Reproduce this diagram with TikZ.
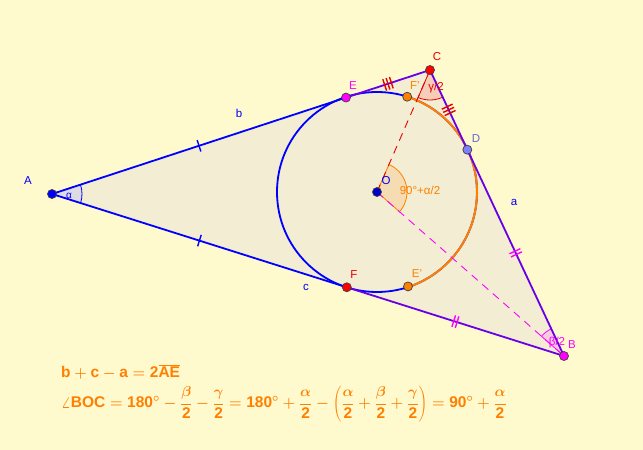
\documentclass[tikz,border=0pt]{standalone}
\usepackage{fontspec}
\setmainfont{Liberation Sans}
\setsansfont{Liberation Sans}
\usetikzlibrary{calc}

\definecolor{bgyellow}{RGB}{255,249,206}
\definecolor{trifill}{RGB}{242,237,211}
\definecolor{violetside}{RGB}{105,0,230}
\definecolor{ggorange}{RGB}{255,128,0}
\definecolor{ggred}{RGB}{230,0,0}
\definecolor{ggmagenta}{RGB}{255,0,255}
\definecolor{ptD}{RGB}{128,128,255}
\definecolor{wedgeA}{RGB}{222,220,225}
\definecolor{wedgeC}{RGB}{246,205,185}
\definecolor{wedgeB}{RGB}{245,205,222}
\definecolor{wedgeO}{RGB}{246,220,178}

\begin{document}
\begin{tikzpicture}[x=1pt, y=1pt, font=\fontsize{11.5}{13}\selectfont,
    dot/.style={circle, draw=black!75, line width=0.7pt, inner sep=0pt, minimum size=9pt},
    side/.style={line width=1.8pt},
    formula/.style={ggorange, anchor=west, inner sep=0pt, font=\fontsize{15.5}{18}\selectfont\bfseries\boldmath}]

\fill[bgyellow] (0,0) rectangle (643,450);
\useasboundingbox (0,0) rectangle (643,450);

% triangle and incircle
\coordinate (A) at (52,256);
\coordinate (B) at (564,94);
\coordinate (C) at (430,380);
\coordinate (O) at (377,258);
\coordinate (E) at ($(A)!(O)!(C)$);
\coordinate (F) at ($(A)!(O)!(B)$);
\coordinate (D) at ($(C)!(O)!(B)$);
\coordinate (Fp) at ($(F)!2!(O)$);
\coordinate (Ep) at ($(E)!2!(O)$);

\fill[trifill] (A) -- (B) -- (C) -- cycle;

% angle sectors
\foreach \vx/\pa/\pb/\c/\f in {A/B/C/blue/wedgeA, C/O/B/ggred/wedgeC, B/C/O/ggmagenta/wedgeB, O/B/C/ggorange/wedgeO}
  \filldraw[draw=\c, fill=\f, line width=0.8pt]
    let \p1=($(\pa)-(\vx)$), \p2=($(\pb)-(\vx)$), \n1={atan2(\y1,\x1)}, \n2={atan2(\y2,\x2)} in
    (\vx) -- ++(\n1:30pt) arc[start angle=\n1, end angle=\n2, radius=30pt] -- cycle;

\draw[blue, side] (O) circle[radius=100pt];
\draw[ggorange, line width=2pt]
  let \p1=($(Fp)-(O)$), \p2=($(Ep)-(O)$), \n1={atan2(\y1,\x1)}, \n2={atan2(\y2,\x2)} in
  (Fp) arc[start angle=\n1, end angle=\n2, radius=100pt];

\draw[blue, side] (E) -- (A) -- (F);
\draw[violetside, side] (E) -- (C) -- (B) -- (F);

\draw[ggred, line width=0.9pt, dash pattern=on 8pt off 6pt] (O) -- (C);
\draw[ggmagenta, line width=0.9pt, dash pattern=on 8pt off 6pt] (O) -- (B);

% equal tangent ticks
\foreach \pa/\pb/\num/\c in {A/E/1/blue, A/F/1/blue, E/C/3/ggred, C/D/3/ggred, D/B/2/ggmagenta, F/B/2/ggmagenta}{
  \coordinate (m) at ($(\pa)!0.5!(\pb)$);
  \foreach \k in {1,...,\num}{
    \pgfmathsetmacro{\off}{(\k-(\num+1)/2)*3.5}
    \coordinate (t) at ($(m)!\off pt!(\pb)$);
    \draw[\c, line width=1.4pt] ($(t)!6pt!90:(\pb)$) -- ($(t)!6pt!-90:(\pb)$);
  }
}

% points
\node[dot, fill=blue] (pA) at (A) {};
\node[dot, fill=ggmagenta] (pB) at (B) {};
\node[dot, fill=red] (pC) at (C) {};
\node[dot, fill=blue!80!black] (pO) at (O) {};
\node[dot, fill=ggmagenta] (pE) at (E) {};
\node[dot, fill=red] (pF) at (F) {};
\node[dot, fill=ptD] (pD) at (D) {};
\node[dot, fill=ggorange] (pFp) at (Fp) {};
\node[dot, fill=ggorange] (pEp) at (Ep) {};

% labels
\node[blue] (lA) at (28,269) {A};
\node[blue, font=\fontsize{10}{12}\selectfont] (lalpha) at (69,254) {α};
\node[blue] (lb) at (239,337) {b};
\node[blue] (lc) at (306,163) {c};
\node[blue] (la) at (514,248) {a};
\node[ggred] (lC) at (437,393) {C};
\node[ggmagenta] (lE) at (353,364) {E};
\node[ggorange] (lFp) at (415,364) {F'};
\node[ggred] (lgamma) at (436,362) {γ/2};
\node[ptD!80!black] (lD) at (476,311) {D};
\node[blue] (lO) at (386,269) {O};
\node[ggorange] (lBOC) at (420,260) {90°+α/2};
\node[ggred] (lF) at (354,175) {F};
\node[ggorange] (lEp) at (417,176) {E'};
\node[ggmagenta] (lbeta) at (557,107) {β/2};
\node[ggmagenta] (lB) at (572,105) {B};

% formulas
\node[formula] (eq1) at (61,78) {$\mathsf{b}+\mathsf{c}-\mathsf{a}=\mathsf{2}\overline{\mathsf{AE}}$};
\node[formula] (eq2) at (61,46) {$\displaystyle\angle\mathsf{BOC}=\mathsf{180}^\circ-\frac{\beta}{\mathsf{2}}-\frac{\gamma}{\mathsf{2}}=\mathsf{180}^\circ+\frac{\alpha}{\mathsf{2}}-\left(\frac{\alpha}{\mathsf{2}}+\frac{\beta}{\mathsf{2}}+\frac{\gamma}{\mathsf{2}}\right)=\mathsf{90}^\circ+\frac{\alpha}{\mathsf{2}}$};
\end{tikzpicture}
\end{document}
